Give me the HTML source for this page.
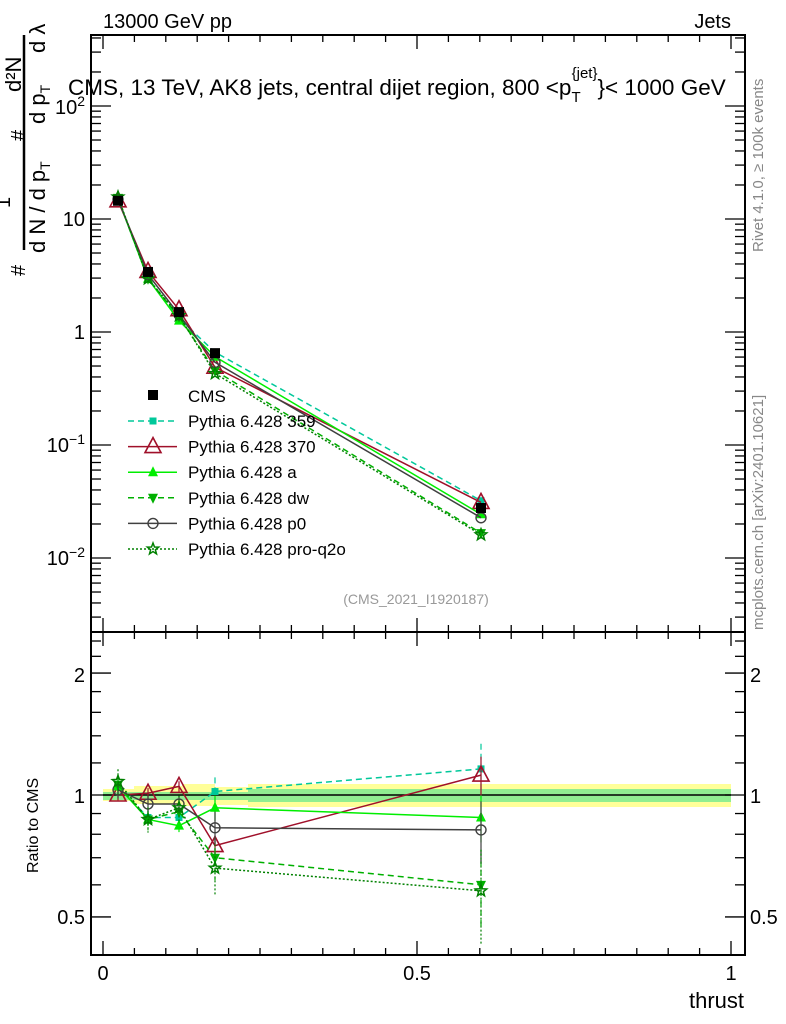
<!DOCTYPE html>
<html><head><meta charset="utf-8"><style>
html,body{margin:0;padding:0;background:#fff;}
svg{display:block;font-family:"Liberation Sans",sans-serif;}
</style></head><body>
<svg id="s" width="786" height="1024" viewBox="0 0 786 1024" xmlns="http://www.w3.org/2000/svg">
<rect width="786" height="1024" fill="#fff"/>
<text x="103" y="28" font-size="20">13000 GeV pp</text>
<text x="731" y="28" font-size="20" text-anchor="end">Jets</text>
<rect x="103" y="789" width="31" height="12" fill="#ffff99"/>
<rect x="134" y="786" width="48" height="18" fill="#ffff99"/>
<rect x="182" y="784" width="33" height="22" fill="#ffff99"/>
<rect x="215" y="787" width="33" height="18" fill="#ffff99"/>
<rect x="248" y="784" width="483" height="23" fill="#ffff99"/>
<rect x="103" y="792" width="628" height="8" fill="#90ee90"/>
<rect x="248" y="789" width="483" height="13" fill="#90ee90"/>
<line x1="103" y1="795" x2="731" y2="795" stroke="#000" stroke-width="1.5"/>
<g id="plot"></g>
<rect x="91" y="35" width="654" height="597" fill="none" stroke="#000" stroke-width="2"/>
<rect x="91" y="632" width="654" height="323" fill="none" stroke="#000" stroke-width="2"/>
<g id="ticks" stroke="#000" stroke-width="1.3"></g>
<g font-size="20">
<text x="85" y="114" text-anchor="end">10<tspan font-size="14" dy="-8">2</tspan></text>
<text x="85" y="226" text-anchor="end">10</text>
<text x="85" y="339" text-anchor="end">1</text>
<text x="85" y="452" text-anchor="end">10<tspan font-size="14" dy="-8">−1</tspan></text>
<text x="85" y="565" text-anchor="end">10<tspan font-size="14" dy="-8">−2</tspan></text>
<text x="85" y="682" text-anchor="end">2</text>
<text x="85" y="803" text-anchor="end">1</text>
<text x="85" y="924" text-anchor="end">0.5</text>
<text x="750" y="682">2</text>
<text x="750" y="803">1</text>
<text x="750" y="924">0.5</text>
<text x="103" y="980" text-anchor="middle">0</text>
<text x="417" y="980" text-anchor="middle">0.5</text>
<text x="731" y="980" text-anchor="middle">1</text>
<text x="744" y="1008" text-anchor="end" font-size="22">thrust</text>
</g>
<text x="68" y="95" font-size="22.5">CMS, 13 TeV, AK8 jets, central dijet region, 800 &lt;p<tspan font-size="15" dy="7">T</tspan><tspan font-size="15" dx="-9" dy="-24">{jet}</tspan><tspan dy="17">}&lt; 1000 GeV</tspan></text>
<text x="416" y="604" font-size="14" fill="#999" text-anchor="middle">(CMS_2021_I1920187)</text>
<text transform="translate(38,873) rotate(-90)" font-size="16">Ratio to CMS</text>
<line x1="24" y1="35" x2="24" y2="250" stroke="#000" stroke-width="2.5"/>
<g font-size="22">
<text transform="translate(21,92) rotate(-90)">d²N</text>
<text transform="translate(45,124) rotate(-90)">d p<tspan font-size="14" dy="5">T</tspan></text>
<text transform="translate(45,53) rotate(-90)">d λ</text>
<text transform="translate(25,141) rotate(-90)" font-size="20">#</text>
<text transform="translate(45,253) rotate(-90)">d N / d p<tspan font-size="14" dy="5">T</tspan></text>
<text transform="translate(10,208) rotate(-90)" font-size="20">1</text>
<text transform="translate(25,276) rotate(-90)" font-size="20">#</text>
</g>
<text transform="translate(763,252) rotate(-90)" font-size="15" fill="#888">Rivet 4.1.0, ≥ 100k events</text>
<text transform="translate(763,630) rotate(-90)" font-size="15" fill="#888">mcplots.cern.ch [arXiv:2401.10621]</text>
<g id="leg" font-size="17"></g>
</svg>
<script>
const NS="http://www.w3.org/2000/svg";
function el(p,t,a){const e=document.createElementNS(NS,t);for(const k in a)e.setAttribute(k,a[k]);p.appendChild(e);return e;}
const X=t=>103+628*t, YM=v=>332-113*Math.log10(v), YR=r=>795-405*Math.log10(r);
const tk=document.getElementById('ticks');
for(let i=0;i<=20;i++){const t=i*0.05,x=X(t),L=(i%10==0)?14:7;
 [[35,1],[632,-1],[632,1],[955,-1]].forEach(([y,d])=>el(tk,'line',{x1:x,y1:y,x2:x,y2:y+d*L}));}
for(let e=-3;e<=2;e++)for(let m=1;m<10;m++){const v=m*Math.pow(10,e),y=YM(v);if(y<36||y>631)continue;const L=m==1?20:10;
 el(tk,'line',{x1:91,y1:y,x2:91+L,y2:y});el(tk,'line',{x1:745,y1:y,x2:745-L,y2:y});}
[0.4,0.5,0.6,0.7,0.8,0.9,1,1.2,1.4,1.6,1.8,2,2.2,2.4].forEach(r=>{const y=YR(r);if(y<633||y>954)return;const L=(r==0.5||r==1||r==2)?20:10;
 el(tk,'line',{x1:91,y1:y,x2:91+L,y2:y});el(tk,'line',{x1:745,y1:y,x2:745-L,y2:y});});
const px=[118,148,179,215,481], cms=[14.5,3.4,1.5,0.65,0.0277];
const S=[
 {n:'Pythia 6.428 359',c:'#00c89a',d:'6,4',m:'sq',r:[1.05,0.88,0.88,1.02,1.16],e:0.07},
 {n:'Pythia 6.428 370',c:'#a0102a',d:'',m:'tri',r:[1.0,1.01,1.05,0.75,1.12],e:0.05},
 {n:'Pythia 6.428 a',c:'#00ee00',d:'',m:'ftri',r:[1.05,0.87,0.84,0.93,0.88],e:0.06},
 {n:'Pythia 6.428 dw',c:'#00b000',d:'6,4',m:'itri',r:[1.06,0.87,0.91,0.70,0.60],e:0.1},
 {n:'Pythia 6.428 p0',c:'#404040',d:'',m:'circ',r:[1.03,0.95,0.95,0.83,0.82],e:0.08},
 {n:'Pythia 6.428 pro-q2o',c:'#008000',d:'2,2',m:'star',r:[1.08,0.87,0.93,0.66,0.58],e:0.12}];
const g=document.getElementById('plot');
function mk(p,m,x,y,c){
 if(m=='sq')el(p,'rect',{x:x-3.5,y:y-3.5,width:7,height:7,fill:c});
 else if(m=='tri')el(p,'polygon',{points:`${x},${y-9} ${x-8},${y+6} ${x+8},${y+6}`,fill:'none',stroke:c,'stroke-width':1.6});
 else if(m=='ftri')el(p,'polygon',{points:`${x},${y-6} ${x-5},${y+4} ${x+5},${y+4}`,fill:c});
 else if(m=='itri')el(p,'polygon',{points:`${x},${y+6} ${x-5},${y-4} ${x+5},${y-4}`,fill:c});
 else if(m=='circ')el(p,'circle',{cx:x,cy:y,r:5,fill:'none',stroke:c,'stroke-width':1.4});
 else if(m=='star'){let pts=[];for(let i=0;i<10;i++){const a=-Math.PI/2+i*Math.PI/5,R=i%2?2.5:6;pts.push((x+R*Math.cos(a)).toFixed(1)+','+(y+R*Math.sin(a)).toFixed(1));}
  el(p,'polygon',{points:pts.join(' '),fill:'none',stroke:c,'stroke-width':1.5});}
}
S.forEach(s=>{
 const pm=px.map((x,i)=>x+','+YM(cms[i]*s.r[i]).toFixed(1)).join(' ');
 const pr=px.map((x,i)=>x+','+YR(s.r[i]).toFixed(1)).join(' ');
 const a={fill:'none',stroke:s.c,'stroke-width':1.5};if(s.d)a['stroke-dasharray']=s.d;
 el(g,'polyline',Object.assign({points:pm},a));el(g,'polyline',Object.assign({points:pr},a));
 px.forEach((x,i)=>{const e=i==4?s.e*2.2:(i==3?s.e*1.2:s.e*0.6);
  const ea={x1:x,x2:x,y1:YR(s.r[i]*(1+e)),y2:YR(s.r[i]*(1-e)),stroke:s.c,'stroke-width':1.2};if(s.d)ea['stroke-dasharray']=s.d;
  el(g,'line',ea);
  mk(g,s.m,x,YM(cms[i]*s.r[i]),s.c);mk(g,s.m,x,YR(s.r[i]),s.c);});
});
px.forEach((x,i)=>el(g,'rect',{x:x-5,y:YM(cms[i])-5,width:10,height:10,fill:'#000'}));
const lg=document.getElementById('leg');
el(lg,'rect',{x:148,y:390,width:10,height:10,fill:'#000'});
el(lg,'text',{x:188,y:402}).textContent='CMS';
S.forEach((s,i)=>{const y=421+i*25.6;const a={x1:128,x2:177,y1:y,y2:y,stroke:s.c,'stroke-width':1.5};if(s.d)a['stroke-dasharray']=s.d;
 el(lg,'line',a);mk(lg,s.m,153,y,s.c);el(lg,'text',{x:188,y:y+6}).textContent=s.n;});
</script>
</body></html>
